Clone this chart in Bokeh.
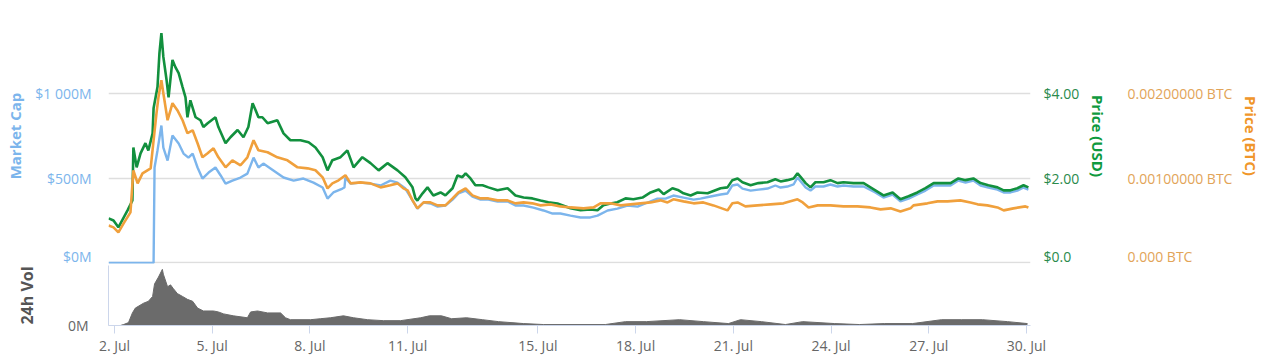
import numpy as np
import pandas as pd
from bokeh.plotting import figure
from bokeh.models import Range1d, LinearAxis, FixedTicker, CustomJSTickFormatter
from bokeh.layouts import column
from bokeh.embed import file_html
from bokeh.resources import INLINE

# ---------------- data (day of July 2017, fractional) ----------------
t_usd = [1.82, 1.97, 2.12, 2.40, 2.55, 2.58, 2.68, 2.80, 2.95, 3.04, 3.17, 3.20, 3.32, 3.38, 3.44, 3.50,
         3.60, 3.66, 3.78, 3.87, 3.97, 4.09, 4.18, 4.24, 4.33, 4.49, 4.64, 4.73, 4.86, 5.10, 5.19, 5.41,
         5.56, 5.78, 5.96, 6.11, 6.24, 6.33, 6.42, 6.54, 6.70, 7.00, 7.19, 7.40, 7.71, 7.96, 8.17, 8.39,
         8.54, 8.69, 8.94, 9.15, 9.34, 9.61, 9.86, 10.11, 10.38, 10.69, 10.93, 11.15, 11.24, 11.30, 11.46,
         11.61, 11.79, 12.01, 12.16, 12.38, 12.53, 12.68, 12.78, 12.93, 13.08, 13.30, 13.48, 13.76, 14.07,
         14.31, 14.56, 14.83, 15.08, 15.32, 15.60, 16.00, 16.31, 16.61, 16.83, 17.01, 17.23, 17.44, 17.69,
         17.93, 18.21, 18.46, 18.71, 18.86, 19.13, 19.32, 19.47, 19.69, 19.90, 20.21, 20.61, 20.82, 20.97,
         21.13, 21.28, 21.53, 21.77, 22.05, 22.29, 22.45, 22.66, 22.85, 22.97, 23.07, 23.22, 23.37, 23.52,
         23.77, 23.98, 24.20, 24.38, 24.69, 25.00, 25.36, 25.61, 25.89, 26.13, 26.38, 26.65, 26.90, 27.15,
         27.42, 27.67, 27.91, 28.13, 28.37, 28.59, 28.83, 29.11, 29.30, 29.51, 29.72, 29.91, 30.06]
price_usd = [1.05, 1.00, 0.84, 1.24, 1.47, 2.72, 2.25, 2.58, 2.82, 2.65, 3.05, 3.64, 4.14, 4.94, 5.41, 4.85,
             4.30, 3.90, 4.78, 4.61, 4.47, 4.14, 3.90, 3.43, 3.83, 3.43, 3.36, 3.20, 3.29, 3.43, 3.20, 2.82,
             2.96, 3.13, 2.96, 3.20, 3.76, 3.60, 3.43, 3.43, 3.29, 3.36, 3.05, 2.89, 2.89, 2.84, 2.72, 2.49,
             2.18, 2.42, 2.49, 2.65, 2.25, 2.49, 2.35, 2.18, 2.35, 2.18, 2.02, 1.78, 1.52, 1.47, 1.64,
             1.78, 1.59, 1.66, 1.59, 1.76, 2.06, 2.02, 2.11, 1.99, 1.83, 1.83, 1.78, 1.71, 1.76,
             1.59, 1.54, 1.52, 1.47, 1.43, 1.40, 1.29, 1.24, 1.26, 1.24, 1.36, 1.40, 1.43, 1.52,
             1.50, 1.54, 1.66, 1.73, 1.62, 1.76, 1.71, 1.64, 1.59, 1.66, 1.64, 1.76, 1.78, 1.95,
             1.99, 1.90, 1.83, 1.88, 1.90, 1.97, 1.92, 1.95, 1.99, 2.11, 2.02, 1.88, 1.78, 1.90,
             1.90, 1.95, 1.88, 1.90, 1.88, 1.88, 1.71, 1.59, 1.66, 1.50, 1.57, 1.66, 1.76, 1.88,
             1.88, 1.88, 1.99, 1.95, 1.99, 1.88, 1.83, 1.78, 1.71, 1.71, 1.76, 1.83, 1.78]

t_btc = [1.82, 1.97, 2.12, 2.28, 2.49, 2.58, 2.71, 2.86, 3.01, 3.11, 3.20, 3.29, 3.35, 3.44, 3.50, 3.63,
         3.72, 3.78, 3.93, 4.09, 4.24, 4.40, 4.55, 4.70, 4.86, 5.04, 5.19, 5.41, 5.62, 5.87, 6.08, 6.27,
         6.42, 6.70, 7.00, 7.31, 7.62, 7.93, 8.17, 8.39, 8.54, 8.69, 8.88, 9.09, 9.25, 9.55, 9.86, 10.17,
         10.47, 10.69, 10.87, 11.00, 11.15, 11.30, 11.49, 11.70, 11.92, 12.16, 12.38, 12.56, 12.78, 12.99,
         13.24, 13.48, 13.76, 14.07, 14.31, 14.56, 14.83, 15.08, 15.39, 15.69, 16.00, 16.40, 16.71, 16.92,
         17.23, 17.54, 17.84, 18.15, 18.46, 18.76, 18.98, 19.16, 19.47, 19.78, 20.08, 20.39, 20.82, 20.97,
         21.13, 21.37, 21.74, 22.14, 22.54, 22.97, 23.13, 23.31, 23.59, 23.98, 24.38, 24.81, 25.21, 25.52,
         25.83, 26.13, 26.44, 26.53, 26.96, 27.27, 27.58, 27.97, 28.28, 28.50, 28.80, 29.11, 29.30, 29.60,
         29.97, 30.06]
price_btc = [0.000442, 0.000419, 0.000360, 0.000466, 0.000595, 0.001091, 0.000937, 0.001055, 0.001091,
             0.001114, 0.001444, 0.001763, 0.001951, 0.002152, 0.001998, 0.001680, 0.001798, 0.001881,
             0.001798, 0.001680, 0.001527, 0.001562, 0.001409, 0.001244, 0.001291, 0.001350, 0.001244,
             0.001126, 0.001208, 0.001150, 0.001244, 0.001444, 0.001326, 0.001303, 0.001244, 0.001208,
             0.001126, 0.001114, 0.001091, 0.001008, 0.000878, 0.000937, 0.000973, 0.001032, 0.000937,
             0.000949, 0.000937, 0.000890, 0.000914, 0.000937, 0.000878, 0.000855, 0.000737, 0.000643,
             0.000713, 0.000713, 0.000678, 0.000678, 0.000760, 0.000831, 0.000878, 0.000796, 0.000760,
             0.000760, 0.000737, 0.000737, 0.000702, 0.000713, 0.000702, 0.000678, 0.000690, 0.000666,
             0.000654, 0.000643, 0.000654, 0.000702, 0.000702, 0.000678, 0.000690, 0.000702, 0.000713,
             0.000737, 0.000713, 0.000749, 0.000725, 0.000702, 0.000713, 0.000678, 0.000619, 0.000702,
             0.000713, 0.000666, 0.000678, 0.000690, 0.000702, 0.000749, 0.000713, 0.000654, 0.000678,
             0.000678, 0.000666, 0.000666, 0.000654, 0.000631, 0.000643, 0.000607, 0.000643, 0.000678,
             0.000702, 0.000725, 0.000725, 0.000737, 0.000713, 0.000690, 0.000678, 0.000654, 0.000619,
             0.000643, 0.000666, 0.000654]

t_mcap = [1.82, 3.20, 3.23, 3.32, 3.44, 3.50, 3.63, 3.78, 3.97, 4.12, 4.27, 4.40, 4.55, 4.70, 4.89, 5.10,
          5.26, 5.41, 5.62, 5.87, 6.08, 6.27, 6.42, 6.57, 6.79, 7.19, 7.50, 7.80, 8.11, 8.39, 8.54, 8.72,
          9.00, 9.06, 9.09, 9.25, 9.55, 9.86, 10.17, 10.47, 10.69, 10.93, 11.15, 11.30, 11.49, 11.70, 11.92,
          12.16, 12.38, 12.56, 12.78, 12.99, 13.24, 13.48, 13.76, 14.07, 14.31, 14.56, 14.86, 15.17, 15.45,
          15.69, 16.00, 16.31, 16.61, 16.83, 17.14, 17.44, 17.75, 18.06, 18.37, 18.67, 18.92, 19.16, 19.47,
          19.78, 19.99, 20.30, 20.61, 20.82, 20.97, 21.13, 21.28, 21.53, 21.77, 22.05, 22.29, 22.45, 22.66,
          22.85, 22.97, 23.07, 23.22, 23.37, 23.52, 23.77, 23.98, 24.20, 24.38, 24.69, 25.00, 25.36, 25.61,
          25.89, 26.13, 26.38, 26.65, 26.90, 27.15, 27.42, 27.67, 27.91, 28.13, 28.37, 28.59, 28.83, 29.11,
          29.30, 29.51, 29.72, 29.91, 30.06]
mcap_musd = [0, 0, 562, 662, 809, 679, 603, 750, 703, 644, 620, 644, 562, 497, 532, 562,
             515, 467, 485, 503, 526, 620, 562, 585, 556, 503, 485, 497, 473, 444, 379, 415,
             438, 444, 503, 467, 473, 467, 456, 485, 473, 438, 368, 320, 356, 350, 332,
             338, 373, 409, 426, 391, 373, 373, 362, 362, 338, 338, 326, 309, 291,
             291, 279, 268, 268, 279, 309, 320, 338, 332, 356, 379, 379, 397, 385,
             373, 379, 391, 403, 409, 456, 462, 438, 426, 432, 438, 456, 444, 450,
             462, 503, 479, 444, 426, 450, 450, 462, 450, 456, 450, 450, 415, 385,
             403, 362, 379, 403, 426, 456, 456, 456, 485, 473, 485, 456, 444, 432,
             415, 415, 426, 444, 432]

t_vol = [1.82, 2.18, 2.28, 2.43, 2.55, 2.64, 2.89, 3.04, 3.17, 3.23, 3.35, 3.47, 3.50, 3.63, 3.72, 3.81,
         3.93, 4.09, 4.24, 4.40, 4.55, 4.73, 5.04, 5.19, 5.35, 5.65, 6.08, 6.18, 6.39, 6.70, 7.10, 7.25,
         7.40, 8.02, 8.32, 8.63, 9.03, 9.34, 9.77, 10.26, 10.78, 11.40, 11.67, 12.04, 12.35, 12.81, 13.30,
         13.79, 14.56, 15.17, 17.07, 17.69, 18.33, 19.35, 20.08, 20.85, 21.22, 21.86, 22.60, 23.13, 24.11,
         24.87, 25.64, 26.50, 27.39, 28.01, 28.65, 29.42, 30.03]
volume_musd = [0, 0, 10, 30, 130, 180, 230, 250, 300, 430, 500, 580, 530, 400, 420, 380,
               330, 300, 270, 250, 180, 150, 150, 140, 120, 100, 80, 140, 150, 130, 130, 80,
               60, 60, 70, 80, 100, 80, 60, 50, 50, 80, 100, 100, 70, 80, 60,
               40, 20, 10, 10, 40, 40, 60, 40, 20, 60, 40, 10, 40, 20,
               10, 20, 20, 60, 60, 60, 40, 20]

mcap_ticks = [0, 500, 1000]
usd_ticks = [0, 2, 4]
btc_ticks = [0, 0.001, 0.002]
vol_ticks = [0]
date_ticks = [2, 5, 8, 11, 15, 18, 21, 24, 27, 30]

# ---------------- helpers ----------------
BASE = pd.Timestamp("2017-07-01")


def to_dt(t):
    return BASE + pd.to_timedelta(np.asarray(t, dtype=float) - 1.0, unit="D")


FONT = "Open Sans"
C_MCAP = "#7cb5ec"
C_USD = "#12903e"
C_BTC = "#f0a03c"
C_VOL = "#6b6b6b"
MB_LEFT = 108
MB_RIGHT = 234

xr = Range1d(start=BASE + pd.Timedelta(days=0.816), end=BASE + pd.Timedelta(days=29.124))

u0, u1 = -0.012, 5.99
p1 = figure(width=1264, height=265, x_range=xr, y_range=Range1d(u0 * 250, u1 * 250),
            x_axis_type="datetime", x_axis_location=None, output_backend="svg",
            toolbar_location=None, min_border_left=MB_LEFT, min_border_right=MB_RIGHT,
            min_border_top=8, min_border_bottom=2)
p1.outline_line_color = None
p1.xgrid.visible = False
p1.ygrid.grid_line_color = "#dedede"
p1.ygrid.grid_line_width = 1.5
p1.ygrid.ticker = FixedTicker(ticks=mcap_ticks)
p1.extra_y_ranges = {"usd": Range1d(u0, u1), "btc": Range1d(u0 * 0.0005, u1 * 0.0005)}


def style_axis(ax, label_color, title_color, standoff, title_standoff, title_size="15px"):
    ax.axis_line_color = None
    ax.major_tick_line_color = None
    ax.minor_tick_line_color = None
    ax.major_tick_out = 0
    ax.major_tick_in = 0
    ax.major_label_standoff = standoff
    ax.major_label_text_font = FONT
    ax.major_label_text_font_size = "14px"
    ax.major_label_text_color = label_color
    ax.major_label_text_baseline = "alphabetic"
    ax.axis_label_text_font = FONT
    ax.axis_label_text_font_size = title_size
    ax.axis_label_text_font_style = "bold"
    ax.axis_label_text_color = title_color
    ax.axis_label_standoff = title_standoff


ly = p1.yaxis[0]
ly.ticker = FixedTicker(ticks=mcap_ticks)
ly.formatter = CustomJSTickFormatter(code="return tick >= 1000 ? '$1 000M' : '$' + tick + 'M';")
ly.axis_label = "Market Cap"
style_axis(ly, C_MCAP, C_MCAP, 17, 7)

ax_usd = LinearAxis(y_range_name="usd", ticker=FixedTicker(ticks=usd_ticks),
                    formatter=CustomJSTickFormatter(code="return tick == 0 ? '$0.0' : '$' + tick.toFixed(2);"),
                    axis_label="Price (USD)")
style_axis(ax_usd, "#2a8a4c", "#0f9a3e", 13, 6)
p1.add_layout(ax_usd, "right")

ax_btc = LinearAxis(y_range_name="btc", ticker=FixedTicker(ticks=btc_ticks),
                    formatter=CustomJSTickFormatter(code="return tick == 0 ? '0.000 BTC' : tick.toFixed(8) + ' BTC';"),
                    axis_label="Price (BTC)")
style_axis(ax_btc, "#e2a458", "#f0962a", 16, 6)
p1.add_layout(ax_btc, "right")

p1.line(to_dt(t_mcap), mcap_musd, line_color=C_MCAP, line_width=2.4)
p1.line(to_dt(t_usd), price_usd, line_color=C_USD, line_width=2.6, y_range_name="usd")
p1.line(to_dt(t_btc), price_btc, line_color=C_BTC, line_width=2.6, y_range_name="btc")

# ---------------- volume panel ----------------
p2 = figure(width=1264, height=92, x_range=xr, y_range=Range1d(0, 620),
            x_axis_type="datetime", output_backend="svg", toolbar_location=None,
            min_border_left=MB_LEFT, min_border_right=MB_RIGHT, min_border_top=0, min_border_bottom=30)
p2.outline_line_color = None
p2.xgrid.visible = False
p2.ygrid.visible = False

vy = p2.yaxis[0]
vy.ticker = FixedTicker(ticks=vol_ticks)
vy.formatter = CustomJSTickFormatter(code="return '0M';")
vy.axis_label = "24h Vol"
style_axis(vy, "#666666", "#555555", 20, 27, title_size="16px")
vy.axis_line_color = "#ccd6eb"

vx = p2.xaxis[0]
tick_ms = [int(pd.Timestamp(2017, 7, d).value // 10**6) for d in date_ticks]
vx.ticker = FixedTicker(ticks=tick_ms)
vx.formatter = CustomJSTickFormatter(code="const d = new Date(tick); return d.getUTCDate() + '. Jul';")
vx.axis_line_color = "#ccd6eb"
vx.major_tick_line_color = "#ccd6eb"
vx.minor_tick_line_color = None
vx.major_tick_out = 8
vx.major_tick_in = 0
vx.major_label_standoff = 2
vx.major_label_text_font = FONT
vx.major_label_text_font_size = "14px"
vx.major_label_text_color = "#666666"

p2.varea(x=to_dt(t_vol), y1=0, y2=volume_musd, fill_color=C_VOL)
p2.line(to_dt(t_vol), volume_musd, line_color=C_VOL, line_width=1)

layout = column(p1, p2)
open("out.html", "w").write(file_html(layout, INLINE))
